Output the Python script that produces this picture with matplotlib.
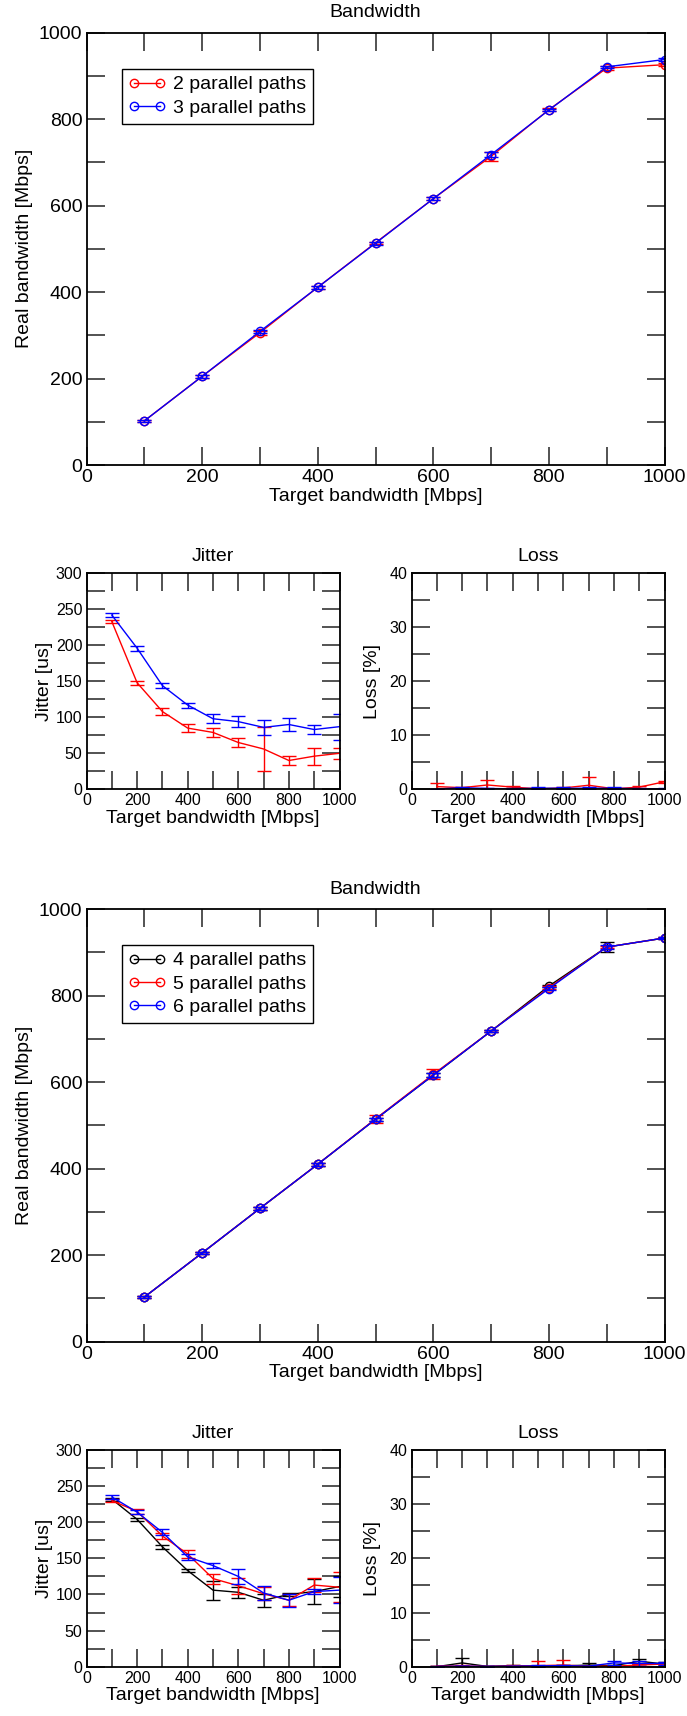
import matplotlib
matplotlib.use("Agg")
import matplotlib.pyplot as plt
from matplotlib.ticker import MultipleLocator

plt.rcParams['font.family'] = ['Liberation Sans', 'DejaVu Sans']

target = [100, 200, 300, 400, 500, 600, 700, 800, 900, 1000]

# group 1: 2 and 3 parallel paths
bw_p2 = [102, 205, 306, 411, 514, 616, 714, 822, 918, 926]
bw_p2_err = [3, 3, 5, 3, 3, 3, 10, 3, 4, 3]
bw_p3 = [102, 205, 309, 411, 513, 616, 718, 821, 921, 938]
bw_p3_err = [3, 3, 4, 3, 3, 3, 5, 3, 3, 3]

jit_p2 = [233, 148, 108, 85, 79, 65, 56, 40, 46, 50]
jit_p2_err = [2, 3, 5, 5, 6, 6, 31, 6, 12, 8]
jit_p3 = [242, 196, 144, 117, 98, 94, 86, 90, 83, 87]
jit_p3_err = [3, 3.5, 4, 3.5, 6.5, 7.5, 10, 8.5, 6, 18]

loss_p2 = [0.5, 0.3, 0.8, 0.4, 0.1, 0.25, 0.75, 0.1, 0.4, 1.4]
loss_p2_err = [0.7, 0.2, 0.9, 0.2, 0.1, 0.2, 1.5, 0.1, 0.2, 0.2]
loss_p3 = [0.05, 0.3, 0.15, 0.1, 0.2, 0.2, 0.2, 0.2, 0.1, 0.1]
loss_p3_err = [0.05, 0.15, 0.1, 0.1, 0.15, 0.15, 0.15, 0.15, 0.1, 0.1]

# group 2: 4, 5 and 6 parallel paths
bw_p4 = [103, 205, 308, 410, 514, 616, 718, 822, 912, 933]
bw_p4_err = [3, 3, 3, 3, 3, 4, 3, 3, 12, 3]
bw_p5 = [103, 205, 308, 410, 515, 618, 718, 818, 912, 933]
bw_p5_err = [3, 3, 3, 3, 9, 12, 3, 4, 3, 3]
bw_p6 = [103, 205, 308, 410, 514, 616, 718, 816, 912, 933]
bw_p6_err = [3, 3, 3, 3, 4, 5, 3, 4, 4, 3]

jit_p4 = [232, 204, 166, 133, 106, 103, 92, 100, 104, 111]
jit_p4_err = [2, 2, 3, 2.5, 13, 8, 9, 2, 17, 15]
jit_p5 = [230, 215, 181, 156, 122, 112, 101, 92, 113, 110]
jit_p5_err = [2, 4, 4, 5, 7, 11, 9, 8, 10, 21]
jit_p6 = [235, 214, 186, 152, 140, 125, 102, 92, 104, 106]
jit_p6_err = [2.5, 3, 4, 4, 3.5, 10, 10, 9, 3, 18]

loss_p4 = [0.0, 0.7, 0.05, 0.2, 0.1, 0.15, 0.3, 0.2, 1.0, 0.5]
loss_p4_err = [0.05, 0.9, 0.05, 0.2, 0.1, 0.1, 0.3, 0.2, 0.5, 0.3]
loss_p5 = [0.1, 0.15, 0.05, 0.15, 0.2, 0.3, 0.1, 0.1, 0.3, 0.5]
loss_p5_err = [0.05, 0.1, 0.05, 0.1, 0.8, 0.9, 0.1, 0.1, 0.2, 0.2]
loss_p6 = [0.05, 0.1, 0.05, 0.1, 0.15, 0.2, 0.1, 0.7, 0.6, 0.6]
loss_p6_err = [0.05, 0.05, 0.05, 0.1, 0.1, 0.1, 0.1, 0.3, 0.4, 0.3]

fig = plt.figure(figsize=(6.87, 17.16), dpi=100)

W, H = 687.0, 1716.0


def add_ax(x0, x1, y0, y1):
    # pixel box (top-left origin) -> figure fraction
    return fig.add_axes([x0 / W, 1 - y1 / H, (x1 - x0) / W, (y1 - y0) / H])


def style(ax, ymax, ymaj, ymin, fs):
    ax.set_xlim(0, 1000)
    ax.set_ylim(0, ymax)
    ax.xaxis.set_major_locator(MultipleLocator(200))
    ax.xaxis.set_minor_locator(MultipleLocator(100))
    ax.yaxis.set_major_locator(MultipleLocator(ymaj))
    ax.yaxis.set_minor_locator(MultipleLocator(ymin))
    ax.tick_params(which='both', direction='in', top=True, right=True,
                   length=13, width=1.3, color='#444444', labelsize=fs, pad=3)
    for s in ax.spines.values():
        s.set_linewidth(1.3)
    ax.set_xlabel("Target bandwidth [Mbps]", fontsize=14, labelpad=1)


def series(ax, y, err, color, label=None):
    ax.errorbar(target, y, yerr=err, fmt='none', ecolor=color, elinewidth=1,
                capsize=5, capthick=1, clip_on=True)
    ax.plot(target, y, color=color, lw=1, marker='o', ms=6, mfc='none',
            mec=color, mew=1, label=label)


def line_only(ax, y, err, color):
    ax.errorbar(target, y, yerr=err, fmt='none', ecolor=color, elinewidth=1,
                capsize=5, capthick=1)
    ax.plot(target, y, color=color, lw=1)


# ---- group 1 ----
ax = add_ax(86.5, 664.5, 32.7, 465)
series(ax, bw_p2, bw_p2_err, 'red', '2 parallel paths')
series(ax, bw_p3, bw_p3_err, 'blue', '3 parallel paths')
style(ax, 1000, 200, 100, 14)
ax.set_title("Bandwidth", fontsize=14, pad=11)
ax.set_ylabel("Real bandwidth [Mbps]", fontsize=14)
leg = ax.legend(loc='upper left', bbox_to_anchor=(0.061, 0.916), borderaxespad=0,
                fontsize=14, numpoints=2, handlelength=1.9, fancybox=False,
                framealpha=1, edgecolor='black', borderpad=0.35, labelspacing=0.3,
                handletextpad=0.4)
leg.get_frame().set_linewidth(1)

ax = add_ax(86.5, 339.5, 573.3, 789.3)
line_only(ax, jit_p2, jit_p2_err, 'red')
line_only(ax, jit_p3, jit_p3_err, 'blue')
style(ax, 300, 50, 25, 11.5)
ax.set_title("Jitter", fontsize=14, pad=9)
ax.set_ylabel("Jitter [us]", fontsize=14, labelpad=2)

ax = add_ax(411.5, 664.5, 573.3, 789.3)
line_only(ax, loss_p2, loss_p2_err, 'red')
line_only(ax, loss_p3, loss_p3_err, 'blue')
style(ax, 40, 10, 5, 11.5)
ax.set_title("Loss", fontsize=14, pad=9)
ax.set_ylabel("Loss [%]", fontsize=14, labelpad=6)

# ---- group 2 ----
ax = add_ax(86.5, 664.5, 909, 1341.7)
series(ax, bw_p4, bw_p4_err, 'black', '4 parallel paths')
series(ax, bw_p5, bw_p5_err, 'red', '5 parallel paths')
series(ax, bw_p6, bw_p6_err, 'blue', '6 parallel paths')
style(ax, 1000, 200, 100, 14)
ax.set_title("Bandwidth", fontsize=14, pad=11)
ax.set_ylabel("Real bandwidth [Mbps]", fontsize=14)
leg = ax.legend(loc='upper left', bbox_to_anchor=(0.061, 0.917), borderaxespad=0,
                fontsize=14, numpoints=2, handlelength=1.9, fancybox=False,
                framealpha=1, edgecolor='black', borderpad=0.35, labelspacing=0.3,
                handletextpad=0.4)
leg.get_frame().set_linewidth(1)

ax = add_ax(86.5, 339.5, 1450, 1666.7)
line_only(ax, jit_p4, jit_p4_err, 'black')
line_only(ax, jit_p5, jit_p5_err, 'red')
line_only(ax, jit_p6, jit_p6_err, 'blue')
style(ax, 300, 50, 25, 11.5)
ax.set_title("Jitter", fontsize=14, pad=9)
ax.set_ylabel("Jitter [us]", fontsize=14, labelpad=2)

ax = add_ax(411.5, 664.5, 1450, 1666.7)
line_only(ax, loss_p4, loss_p4_err, 'black')
line_only(ax, loss_p5, loss_p5_err, 'red')
line_only(ax, loss_p6, loss_p6_err, 'blue')
style(ax, 40, 10, 5, 11.5)
ax.set_title("Loss", fontsize=14, pad=9)
ax.set_ylabel("Loss [%]", fontsize=14, labelpad=6)

fig.savefig("out.png", dpi=100)
